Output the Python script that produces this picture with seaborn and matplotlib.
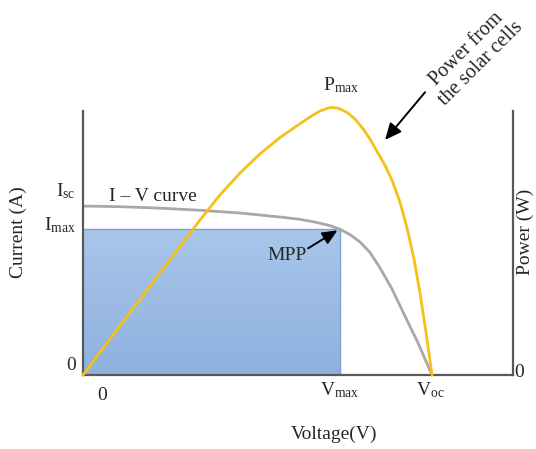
import numpy as np
import pandas as pd
import matplotlib
matplotlib.use("Agg")
import matplotlib.pyplot as plt
from matplotlib.colors import LinearSegmentedColormap
import seaborn as sns

# I-V curve (voltage in V, current in A)
iv_voltage = [0, 2.12, 4.41, 6.70, 9.00, 11.29, 12.44, 13.30, 14.15, 14.73,
              15.30, 15.87, 16.45, 17.02, 17.71, 18.34, 19.20, 20.0]
iv_current = [8.0, 7.97, 7.90, 7.80, 7.67, 7.48, 7.37, 7.24, 7.07, 6.90,
              6.65, 6.30, 5.80, 5.07, 4.07, 2.98, 1.51, 0.0]

# P-V curve (power in W)
pv_voltage = [0, 3.84, 6.70, 7.85, 9.00, 10.14, 11.29, 12.44, 13.01, 13.58,
              14.15, 14.61, 15.13, 15.59, 16.05, 16.45, 16.85, 17.31, 17.71,
              18.17, 18.57, 18.97, 19.31, 19.66, 20.0]
pv_power = [0, 33.2, 57.8, 67.2, 75.4, 82.5, 88.6, 93.8, 96.3, 98.5,
            99.8, 99.6, 98.0, 95.5, 91.8, 88.0, 83.4, 78.2, 72.6,
            64.4, 54.8, 43.2, 30.6, 15.7, 0.0]

v_mpp = 14.73
i_mpp = 6.90
i_sc = 8.0
v_oc = 20.0
v_pmax = 14.15
p_max = 100.0

iv = pd.DataFrame({"V": iv_voltage, "I": iv_current})
pv = pd.DataFrame({"V": pv_voltage, "P": pv_power})

sns.set_style("white")
plt.rcParams["font.family"] = ["Liberation Serif", "DejaVu Serif"]
plt.rcParams["mathtext.fontset"] = "custom"
plt.rcParams["mathtext.rm"] = "Liberation Serif"
plt.rcParams["mathtext.it"] = "Liberation Serif:italic"
plt.rcParams["mathtext.bf"] = "Liberation Serif:bold"

fig = plt.figure(figsize=(5.36, 4.49), dpi=100)
ax = fig.add_axes([83 / 536, 74 / 449, 430 / 536, 264 / 449])
ax2 = ax.twinx()

axis_col = "#595959"
fs = 14

# MPP rectangle with a light vertical gradient
blues = LinearSegmentedColormap.from_list("mpp", ["#8eb1df", "#a9c6ea"])
grad = np.linspace(0, 1, 100).reshape(-1, 1)
ax.imshow(grad, cmap=blues, origin="lower", aspect="auto",
          extent=[0, v_mpp, 0, i_mpp], zorder=1)
ax.plot([0, v_mpp, v_mpp], [i_mpp, i_mpp, 0], color="#7aa2d6", lw=1, zorder=2)

sns.lineplot(data=iv, x="V", y="I", ax=ax, color="#a8a8a8", lw=2, zorder=3)
sns.lineplot(data=pv, x="V", y="P", ax=ax2, color="#f5c01a", lw=2,
             clip_on=False, zorder=3)

ax.set_xlim(0, 24.64)
ax.set_ylim(0, 12.5)
ax2.set_ylim(0, 98.5)

for a in (ax, ax2):
    a.set_xticks([])
    a.set_yticks([])
    a.set_xlabel("")
    a.set_ylabel("")
    for s in a.spines.values():
        s.set_visible(False)
ax.spines["left"].set_visible(True)
ax.spines["bottom"].set_visible(True)
ax2.spines["right"].set_visible(True)
for s in (ax.spines["left"], ax.spines["bottom"], ax2.spines["right"]):
    s.set_color(axis_col)
    s.set_linewidth(1.6)
    s.set_zorder(4)

# tick-like labels
ax.text(-0.40, 8.71, r"I$_{\mathrm{sc}}$", ha="right", va="center", fontsize=fs)
ax.text(-0.40, 7.10, r"I$_{\mathrm{max}}$", ha="right", va="center", fontsize=fs)
ax.text(-0.69, 0.43, "0", ha="center", va="center", fontsize=fs)
ax.text(1.09, -0.99, "0", ha="center", va="center", fontsize=fs)
ax.text(v_mpp, -0.70, r"V$_{\mathrm{max}}$", ha="center", va="center", fontsize=fs)
ax.text(v_oc - 0.1, -0.70, r"V$_{\mathrm{oc}}$", ha="center", va="center", fontsize=fs)
ax.text(25.0, 0.1, "0", ha="center", va="center", fontsize=fs)

# axis titles
ax.text(-0.151, 0.542, "Current (A)", transform=ax.transAxes, rotation=90,
        ha="center", va="center", fontsize=fs)
ax.text(1.028, 0.542, "Power (W)", transform=ax.transAxes, rotation=90,
        ha="center", va="center", fontsize=fs)
ax.text(0.584, -0.223, "Voltage(V)", transform=ax.transAxes,
        ha="center", va="center", fontsize=fs)

# annotations
ax.text(4.02, 8.43, "I – V curve", ha="center", va="center", fontsize=fs)
ax2.text(v_pmax + 0.63, p_max + 8.0, r"P$_{\mathrm{max}}$", ha="center",
         va="center", fontsize=fs)
ax.text(11.69, 5.65, "MPP", ha="center", va="center", fontsize=fs)
ax.annotate("", xy=(v_mpp - 0.15, i_mpp - 0.05), xytext=(12.9, 6.0),
            arrowprops=dict(arrowstyle="-|>,head_length=0.9,head_width=0.4",
                            color="black", lw=1.4, shrinkA=0, shrinkB=0))
ax2.annotate("", xy=(17.31, 87.7), xytext=(19.6, 105.5),
             arrowprops=dict(arrowstyle="-|>,head_length=1.0,head_width=0.45",
                             color="black", lw=1.4, shrinkA=0, shrinkB=0),
             annotation_clip=False)
ax2.text(22.4, 119.0, "Power from\nthe solar cells", rotation=45,
         ha="center", va="center", fontsize=fs + 0.5, linespacing=1.15,
         multialignment="center")

fig.savefig("out.png", dpi=100)
